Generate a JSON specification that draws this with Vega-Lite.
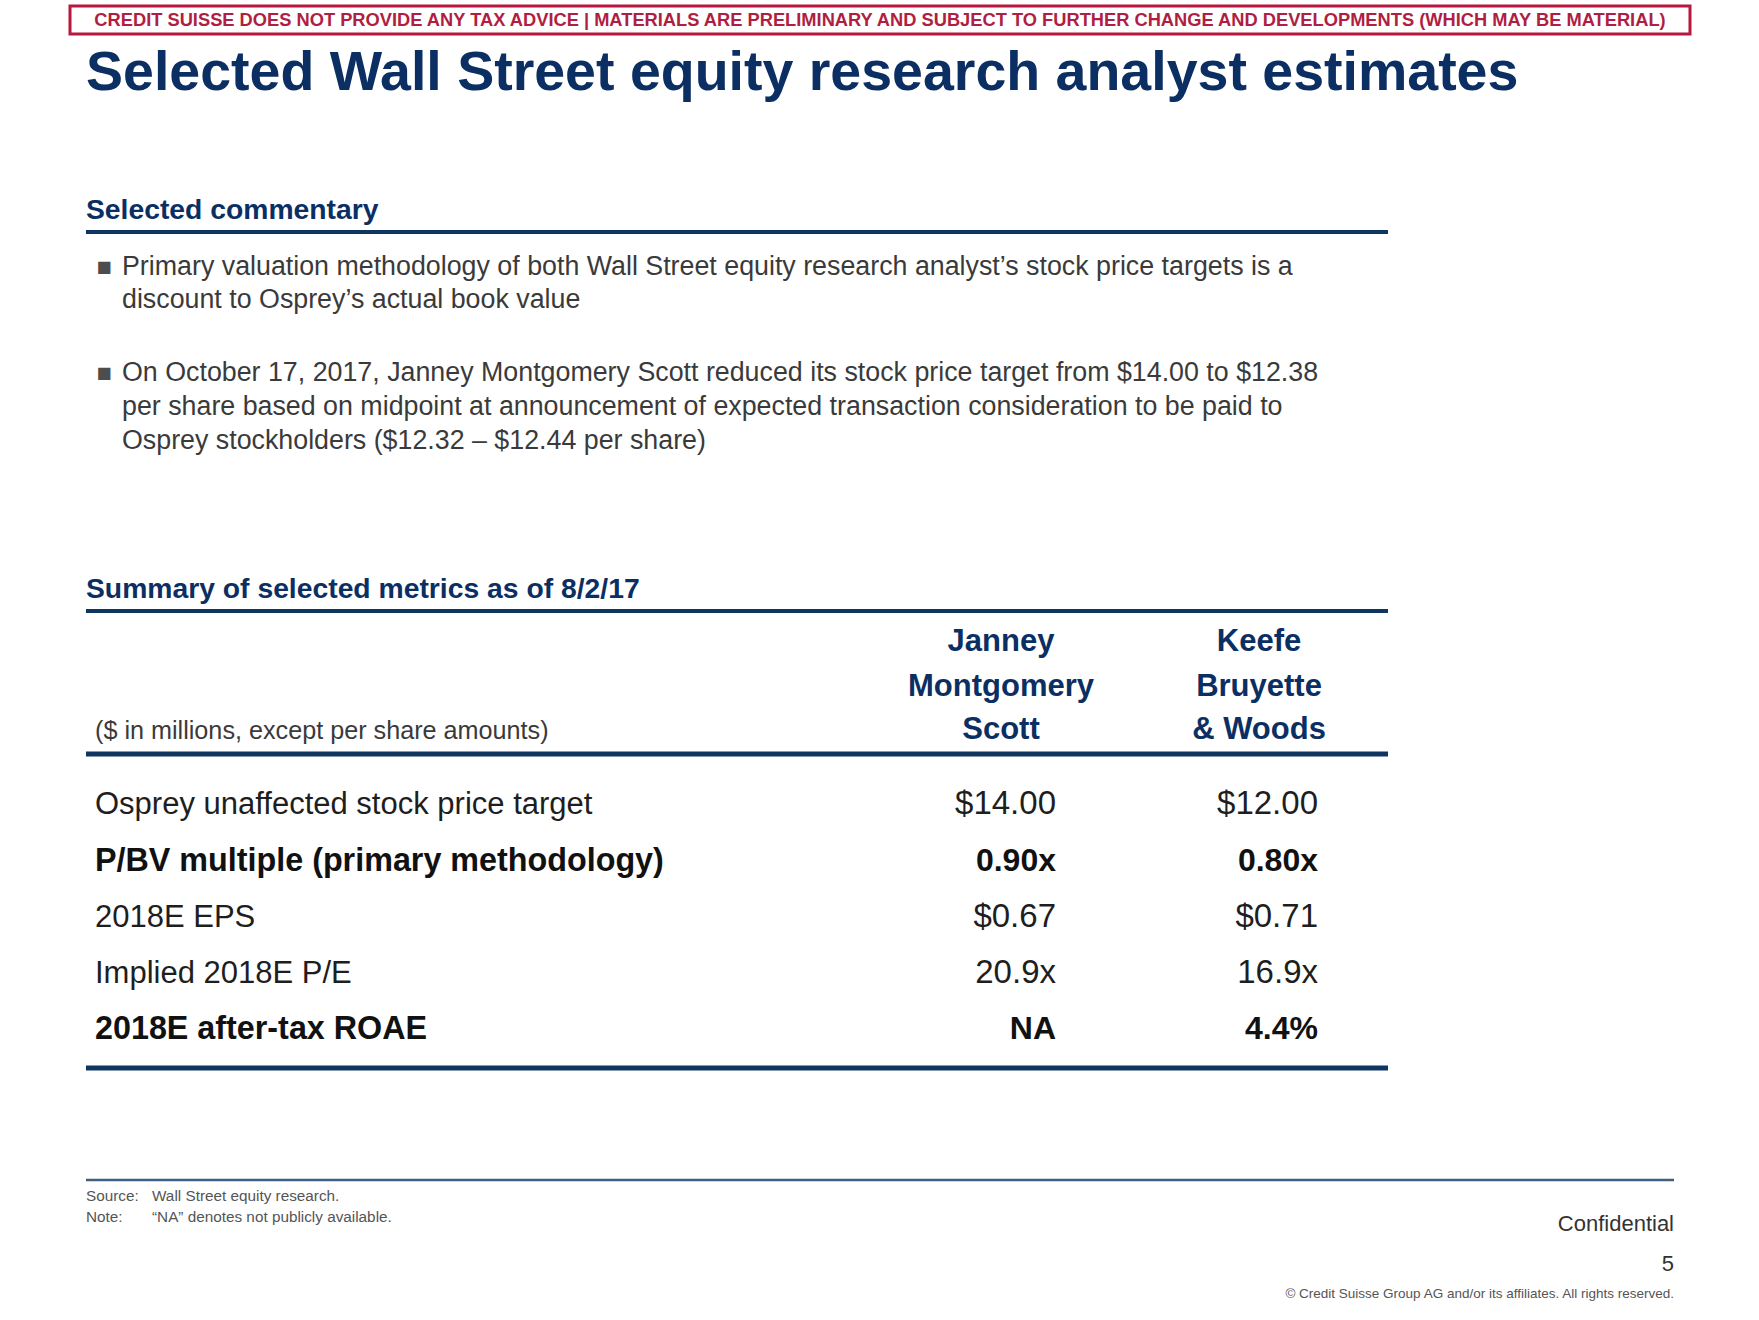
{
  "$schema": "https://vega.github.io/schema/vega-lite/v6.json",
  "width": 1759,
  "height": 1320,
  "autosize": {"type": "fit", "contains": "padding"},
  "padding": 0,
  "background": "white",
  "config": {"view": {"stroke": null}},
  "data": {
    "values": [
      {"role": "banner_box", "col": 0, "col2": 13, "line": 0, "line2": 2},
      {"role": "banner", "col": 6, "line": 1, "text": "CREDIT SUISSE DOES NOT PROVIDE ANY TAX ADVICE | MATERIALS ARE PRELIMINARY AND SUBJECT TO FURTHER CHANGE AND DEVELOPMENTS (WHICH MAY BE MATERIAL)"},
      {"role": "title", "col": 1, "line": 3, "text": "Selected Wall Street equity research analyst estimates"},
      {"role": "section", "col": 1, "line": 4, "text": "Selected commentary"},
      {"role": "rule_section", "col": 1, "col2": 11, "line": 5},
      {"role": "marker", "col": 3, "line": 6},
      {"role": "bullet", "col": 4, "line": 6, "text": "Primary valuation methodology of both Wall Street equity research analyst’s stock price targets is a"},
      {"role": "bullet", "col": 4, "line": 7, "text": "discount to Osprey’s actual book value"},
      {"role": "marker", "col": 3, "line": 8},
      {"role": "bullet", "col": 4, "line": 8, "text": "On October 17, 2017, Janney Montgomery Scott reduced its stock price target from $14.00 to $12.38"},
      {"role": "bullet", "col": 4, "line": 9, "text": "per share  based on midpoint at announcement of expected transaction consideration to be paid to"},
      {"role": "bullet", "col": 4, "line": 10, "text": "Osprey stockholders ($12.32 – $12.44 per share)"},
      {"role": "section", "col": 1, "line": 11, "text": "Summary of selected metrics as of 8/2/17"},
      {"role": "rule_section", "col": 1, "col2": 11, "line": 12},
      {"role": "header", "col": 7, "line": 13, "text": "Janney"},
      {"role": "header", "col": 7, "line": 14, "text": "Montgomery"},
      {"role": "header", "col": 7, "line": 15, "text": "Scott"},
      {"role": "header", "col": 9, "line": 13, "text": "Keefe"},
      {"role": "header", "col": 9, "line": 14, "text": "Bruyette"},
      {"role": "header", "col": 9, "line": 15, "text": "& Woods"},
      {"role": "units", "col": 2, "line": 15, "text": "($ in millions, except per share amounts)"},
      {"role": "rule_table", "col": 1, "col2": 11, "line": 16},
      {"role": "label", "col": 2, "line": 17, "text": "Osprey unaffected stock price target"},
      {"role": "value", "col": 8, "line": 17, "text": "$14.00"},
      {"role": "value", "col": 10, "line": 17, "text": "$12.00"},
      {"role": "label_bold", "col": 2, "line": 18, "text": "P/BV multiple (primary methodology)"},
      {"role": "value_bold", "col": 8, "line": 18, "text": "0.90x"},
      {"role": "value_bold", "col": 10, "line": 18, "text": "0.80x"},
      {"role": "label", "col": 2, "line": 19, "text": "2018E EPS"},
      {"role": "value", "col": 8, "line": 19, "text": "$0.67"},
      {"role": "value", "col": 10, "line": 19, "text": "$0.71"},
      {"role": "label", "col": 2, "line": 20, "text": "Implied 2018E P/E"},
      {"role": "value", "col": 8, "line": 20, "text": "20.9x"},
      {"role": "value", "col": 10, "line": 20, "text": "16.9x"},
      {"role": "label_bold", "col": 2, "line": 21, "text": "2018E after-tax ROAE"},
      {"role": "value_bold", "col": 8, "line": 21, "text": "NA"},
      {"role": "value_bold", "col": 10, "line": 21, "text": "4.4%"},
      {"role": "rule_table", "col": 1, "col2": 11, "line": 22},
      {"role": "rule_footer", "col": 1, "col2": 12, "line": 23},
      {"role": "footnote", "col": 1, "line": 24, "text": "Source:"},
      {"role": "footnote", "col": 5, "line": 24, "text": "Wall Street equity research."},
      {"role": "footnote", "col": 1, "line": 25, "text": "Note:"},
      {"role": "footnote", "col": 5, "line": 25, "text": "“NA” denotes not publicly available."},
      {"role": "confidential", "col": 12, "line": 26, "text": "Confidential"},
      {"role": "confidential", "col": 12, "line": 27, "text": "5"},
      {"role": "copyright", "col": 12, "line": 28, "text": "© Credit Suisse Group AG and/or its affiliates. All rights reserved."}
    ]
  },
  "encoding": {
    "x": {
      "field": "col", "type": "quantitative", "axis": null,
      "scale": {
        "nice": false, "zero": false,
        "domain": [0, 1, 2, 3, 4, 5, 6, 7, 8, 9, 10, 11, 12, 13],
        "range": [70, 86, 95, 104, 122, 152, 880, 1001, 1056, 1259, 1318, 1388, 1674, 1690]
      }
    },
    "y": {
      "field": "line", "type": "quantitative", "axis": null,
      "scale": {
        "nice": false, "zero": false,
        "domain": [0, 1, 2, 3, 4, 5, 6, 7, 8, 9, 10, 11, 12, 13, 14, 15, 16, 17, 18, 19, 20, 21, 22, 23, 24, 25, 26, 27, 28],
        "range": [6, 26, 34, 90, 219, 232, 275, 308, 381, 415, 449, 598, 611, 651, 696, 739, 754, 814, 871, 927, 983, 1039, 1068, 1180, 1201, 1222, 1231, 1271, 1298]
      }
    }
  },
  "layer": [
    {
      "transform": [{"filter": "datum.role === 'banner_box'"}],
      "mark": {"type": "rect", "fill": "white", "stroke": "#b8173f", "strokeWidth": 3},
      "encoding": {"x2": {"field": "col2"}, "y2": {"field": "line2"}}
    },
    {
      "transform": [{"filter": "datum.role === 'banner'"}],
      "mark": {"type": "text", "align": "center", "baseline": "alphabetic", "font": "Liberation Sans", "fontWeight": "bold", "fontSize": 18.3, "color": "#b01e42"},
      "encoding": {"text": {"field": "text"}}
    },
    {
      "transform": [{"filter": "datum.role === 'title'"}],
      "mark": {"type": "text", "align": "left", "baseline": "alphabetic", "font": "Liberation Sans", "fontWeight": "bold", "fontSize": 55.5, "color": "#0c2f63"},
      "encoding": {"text": {"field": "text"}}
    },
    {
      "transform": [{"filter": "datum.role === 'section'"}],
      "mark": {"type": "text", "align": "left", "baseline": "alphabetic", "font": "Liberation Sans", "fontWeight": "bold", "fontSize": 28.3, "color": "#0c2f63"},
      "encoding": {"text": {"field": "text"}}
    },
    {
      "transform": [{"filter": "datum.role === 'rule_section'"}],
      "mark": {"type": "rule", "color": "#0f3561", "strokeWidth": 4},
      "encoding": {"x2": {"field": "col2"}}
    },
    {
      "transform": [{"filter": "datum.role === 'rule_table'"}],
      "mark": {"type": "rule", "color": "#0f3561", "strokeWidth": 5},
      "encoding": {"x2": {"field": "col2"}}
    },
    {
      "transform": [{"filter": "datum.role === 'rule_footer'"}],
      "mark": {"type": "rule", "color": "#3f5f82", "strokeWidth": 2.5},
      "encoding": {"x2": {"field": "col2"}}
    },
    {
      "transform": [{"filter": "datum.role === 'marker'"}],
      "mark": {"type": "text", "text": "■", "align": "center", "baseline": "alphabetic", "font": "DejaVu Sans", "fontSize": 16, "dy": -3, "color": "#4d4d4d"},
      "encoding": {}
    },
    {
      "transform": [{"filter": "datum.role === 'bullet'"}],
      "mark": {"type": "text", "align": "left", "baseline": "alphabetic", "font": "Liberation Sans", "fontSize": 26.8, "color": "#3a3a3a"},
      "encoding": {"text": {"field": "text"}}
    },
    {
      "transform": [{"filter": "datum.role === 'header'"}],
      "mark": {"type": "text", "align": "center", "baseline": "alphabetic", "font": "Liberation Sans", "fontWeight": "bold", "fontSize": 31, "color": "#0c2f63"},
      "encoding": {"text": {"field": "text"}}
    },
    {
      "transform": [{"filter": "datum.role === 'units'"}],
      "mark": {"type": "text", "align": "left", "baseline": "alphabetic", "font": "Liberation Sans", "fontSize": 25.2, "color": "#3a3a3a"},
      "encoding": {"text": {"field": "text"}}
    },
    {
      "transform": [{"filter": "datum.role === 'label'"}],
      "mark": {"type": "text", "align": "left", "baseline": "alphabetic", "font": "Liberation Sans", "fontSize": 31, "color": "#1e1e1e"},
      "encoding": {"text": {"field": "text"}}
    },
    {
      "transform": [{"filter": "datum.role === 'label_bold'"}],
      "mark": {"type": "text", "align": "left", "baseline": "alphabetic", "font": "Liberation Sans", "fontWeight": "bold", "fontSize": 32.3, "color": "#111111"},
      "encoding": {"text": {"field": "text"}}
    },
    {
      "transform": [{"filter": "datum.role === 'value'"}],
      "mark": {"type": "text", "align": "right", "baseline": "alphabetic", "font": "Liberation Sans", "fontSize": 33, "color": "#1e1e1e"},
      "encoding": {"text": {"field": "text"}}
    },
    {
      "transform": [{"filter": "datum.role === 'value_bold'"}],
      "mark": {"type": "text", "align": "right", "baseline": "alphabetic", "font": "Liberation Sans", "fontWeight": "bold", "fontSize": 32, "color": "#111111"},
      "encoding": {"text": {"field": "text"}}
    },
    {
      "transform": [{"filter": "datum.role === 'footnote'"}],
      "mark": {"type": "text", "align": "left", "baseline": "alphabetic", "font": "Liberation Sans", "fontSize": 15.3, "color": "#555555"},
      "encoding": {"text": {"field": "text"}}
    },
    {
      "transform": [{"filter": "datum.role === 'confidential'"}],
      "mark": {"type": "text", "align": "right", "baseline": "alphabetic", "font": "Liberation Sans", "fontSize": 22, "color": "#333333"},
      "encoding": {"text": {"field": "text"}}
    },
    {
      "transform": [{"filter": "datum.role === 'copyright'"}],
      "mark": {"type": "text", "align": "right", "baseline": "alphabetic", "font": "Liberation Sans", "fontSize": 13.5, "color": "#555555"},
      "encoding": {"text": {"field": "text"}}
    }
  ]
}
